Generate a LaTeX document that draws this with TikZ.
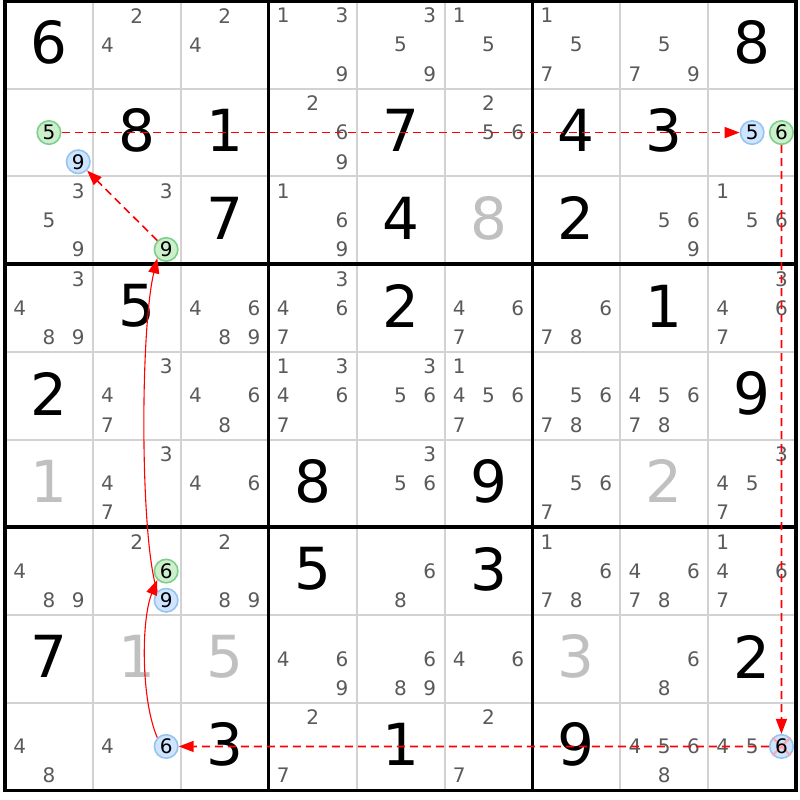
\documentclass[tikz,border=0pt]{standalone}
\usepackage{fontspec}
\setmainfont{DejaVu Sans}
\usetikzlibrary{arrows.meta}
\definecolor{candgray}{RGB}{90,90,90}
\definecolor{solvedgray}{RGB}{192,192,192}
\definecolor{thingrid}{RGB}{210,210,210}
\definecolor{grfill}{RGB}{204,240,204}
\definecolor{grline}{RGB}{125,208,140}
\definecolor{blfill}{RGB}{206,228,255}
\definecolor{blline}{RGB}{150,196,240}
\def\cw{87.9}
\def\ch{87.7}
\newcommand\SCand[3]{%
  \foreach \d in {#3}{%
    \pgfmathsetmacro\sx{5+(#2-0.5)*\cw+(mod(\d-1,3)-1)*29.3}%
    \pgfmathsetmacro\sy{1+(#1-0.5)*\ch+(floor((\d-1)/3)-1)*29.2}%
    \node[cand] (k#1#2\d) at (\sx,\sy) {\d};
  }}
\newcommand\SHl[4]{%
  \pgfmathsetmacro\sx{5+(#2-0.5)*\cw+(mod(#3-1,3)-1)*29.3}%
  \pgfmathsetmacro\sy{1+(#1-0.5)*\ch+(floor((#3-1)/3)-1)*29.2}%
  \node[#4] (h#1#2-#3) at (\sx,\sy) {#3};}
\newcommand\SGiven[3]{%
  \pgfmathsetmacro\sx{5+(#2-0.5)*\cw}%
  \pgfmathsetmacro\sy{1+(#1-0.5)*\ch-2}%
  \node[big] (g#1#2) at (\sx,\sy) {#3};}
\newcommand\SSolved[3]{%
  \pgfmathsetmacro\sx{5+(#2-0.5)*\cw}%
  \pgfmathsetmacro\sy{1+(#1-0.5)*\ch-2}%
  \node[big,text=solvedgray] (g#1#2) at (\sx,\sy) {#3};}
\begin{document}
\begin{tikzpicture}[x=1pt,y=-1pt,
  cand/.style={text=candgray,font=\fontsize{20}{20}\selectfont,inner sep=0pt},
  big/.style={text=black,font=\fontsize{58}{58}\selectfont,inner sep=0pt},
  hlbase/.style={circle,line width=1.6pt,minimum size=23.5pt,inner sep=0pt,text=black,font=\fontsize{20}{20}\selectfont},
  grc/.style={hlbase,draw=grline,fill=grfill},
  blc/.style={hlbase,draw=blline,fill=blfill},
  thinline/.style={thingrid,line width=2pt},
  thickline/.style={black,line width=3.5pt},
  link/.style={red,line width=1.6pt,-{Triangle[length=15pt,width=11pt]}},
  dlink/.style={link,dash pattern=on 8pt off 5pt}]
\useasboundingbox (0,0) rectangle (800,800);
\fill[white] (0,0) rectangle (800,800);
% grid
\foreach \i in {1,2,4,5,7,8}{
  \draw[thinline] ({5+\i*\cw},1) -- ({5+\i*\cw},{1+9*\ch});
  \draw[thinline] (5,{1+\i*\ch}) -- ({5+9*\cw},{1+\i*\ch});
}
\foreach \i in {0,3,6,9}{
  \draw[thickline] ({5+\i*\cw},-0.75) -- ({5+\i*\cw},{1+9*\ch+1.75});
  \draw[thickline] (3.25,{1+\i*\ch}) -- ({5+9*\cw+1.75},{1+\i*\ch});
}
% row 1
\SGiven{1}{1}{6} \SCand{1}{2}{2,4} \SCand{1}{3}{2,4} \SCand{1}{4}{1,3,9} \SCand{1}{5}{3,5,9}
\SCand{1}{6}{1,5} \SCand{1}{7}{1,5,7} \SCand{1}{8}{5,7,9} \SGiven{1}{9}{8}
% row 2
\SHl{2}{1}{5}{grc} \SHl{2}{1}{9}{blc} \SGiven{2}{2}{8} \SGiven{2}{3}{1} \SCand{2}{4}{2,6,9}
\SGiven{2}{5}{7} \SCand{2}{6}{2,5,6} \SGiven{2}{7}{4} \SGiven{2}{8}{3} \SHl{2}{9}{5}{blc} \SHl{2}{9}{6}{grc}
% row 3
\SCand{3}{1}{3,5,9} \SCand{3}{2}{3} \SHl{3}{2}{9}{grc} \SGiven{3}{3}{7} \SCand{3}{4}{1,6,9}
\SGiven{3}{5}{4} \SSolved{3}{6}{8} \SGiven{3}{7}{2} \SCand{3}{8}{5,6,9} \SCand{3}{9}{1,5,6}
% row 4
\SCand{4}{1}{3,4,8,9} \SGiven{4}{2}{5} \SCand{4}{3}{4,6,8,9} \SCand{4}{4}{3,4,6,7} \SGiven{4}{5}{2}
\SCand{4}{6}{4,6,7} \SCand{4}{7}{6,7,8} \SGiven{4}{8}{1} \SCand{4}{9}{3,4,6,7}
% row 5
\SGiven{5}{1}{2} \SCand{5}{2}{3,4,7} \SCand{5}{3}{4,6,8} \SCand{5}{4}{1,3,4,6,7} \SCand{5}{5}{3,5,6}
\SCand{5}{6}{1,4,5,6,7} \SCand{5}{7}{5,6,7,8} \SCand{5}{8}{4,5,6,7,8} \SGiven{5}{9}{9}
% row 6
\SSolved{6}{1}{1} \SCand{6}{2}{3,4,7} \SCand{6}{3}{4,6} \SGiven{6}{4}{8} \SCand{6}{5}{3,5,6}
\SGiven{6}{6}{9} \SCand{6}{7}{5,6,7} \SSolved{6}{8}{2} \SCand{6}{9}{3,4,5,7}
% row 7
\SCand{7}{1}{4,8,9} \SCand{7}{2}{2} \SHl{7}{2}{6}{grc} \SHl{7}{2}{9}{blc} \SCand{7}{3}{2,8,9}
\SGiven{7}{4}{5} \SCand{7}{5}{6,8} \SGiven{7}{6}{3} \SCand{7}{7}{1,6,7,8} \SCand{7}{8}{4,6,7,8} \SCand{7}{9}{1,4,6,7}
% row 8
\SGiven{8}{1}{7} \SSolved{8}{2}{1} \SSolved{8}{3}{5} \SCand{8}{4}{4,6,9} \SCand{8}{5}{6,8,9}
\SCand{8}{6}{4,6} \SSolved{8}{7}{3} \SCand{8}{8}{6,8} \SGiven{8}{9}{2}
% row 9
\SCand{9}{1}{4,8} \SCand{9}{2}{4} \SHl{9}{2}{6}{blc} \SGiven{9}{3}{3} \SCand{9}{4}{2,7}
\SGiven{9}{5}{1} \SCand{9}{6}{2,7} \SGiven{9}{7}{9} \SCand{9}{8}{4,5,6,8} \SCand{9}{9}{4,5}
% eliminated candidate
\node[blc] (h99-6) at (781.45,746.45) {\phantom{6}};
\draw[red!35,line width=2pt] (h99-6.45) -- (h99-6.225) (h99-6.135) -- (h99-6.315);
\node[text=black,font=\fontsize{20}{20}\selectfont,inner sep=0pt] (t99-6) at (h99-6.center) {6};
% links
\draw[dlink] (h21-5) -- (h29-5);
\draw[dlink] (h29-6) -- (h99-6);
\draw[dlink] (h99-6) -- (h92-6);
\draw[dlink] (h32-9) -- (h21-9);
\draw[link,line width=1.1pt] (h92-6.135) .. controls (141,700) and (141,620) .. (h72-6.225);
\draw[link,line width=1.1pt] (h72-9.135) .. controls (140,540) and (140,330) .. (h32-9.225);
\end{tikzpicture}
\end{document}
